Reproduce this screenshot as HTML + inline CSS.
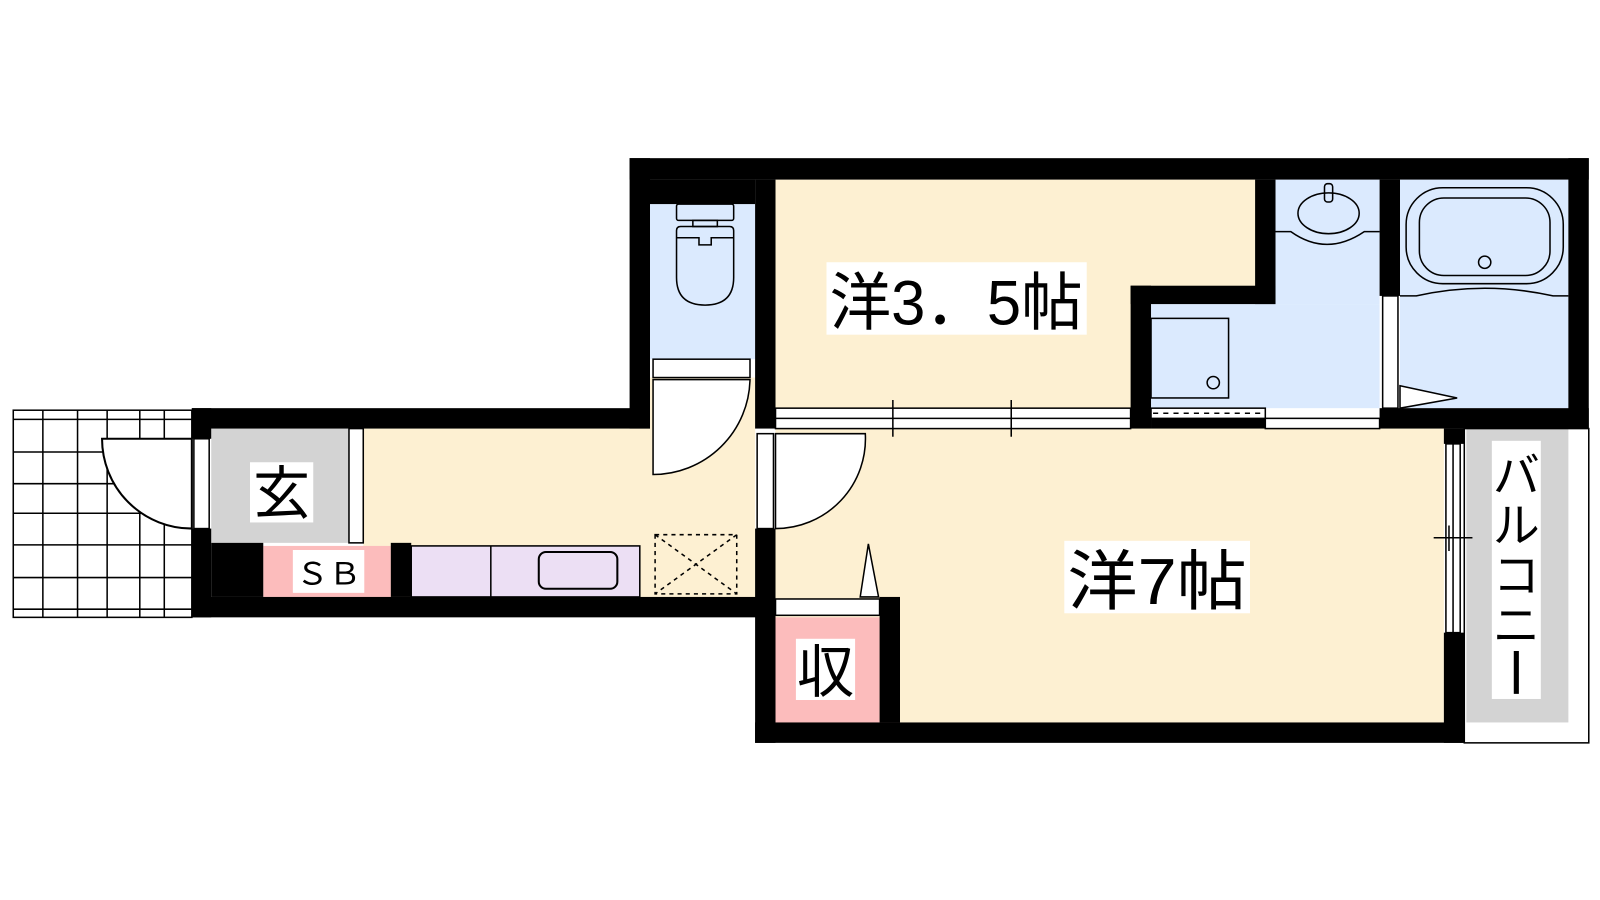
<!DOCTYPE html>
<html><head><meta charset="utf-8"><style>
html,body{margin:0;padding:0;background:#fff;width:1600px;height:900px;overflow:hidden}
text{font-family:"Liberation Sans","Noto Sans CJK JP",sans-serif;fill:#000}
</style></head><body>
<svg width="1600" height="900" viewBox="0 0 1568 882" xmlns="http://www.w3.org/2000/svg">
<!-- exterior tile grid -->
<g stroke="#000" stroke-width="1.5" fill="none">
<rect x="13" y="402" width="175" height="203" fill="#fff"/>
<line x1="13" y1="411" x2="188" y2="411"/><line x1="13" y1="443" x2="188" y2="443"/>
<line x1="13" y1="474" x2="188" y2="474"/><line x1="13" y1="503" x2="188" y2="503"/>
<line x1="13" y1="534" x2="188" y2="534"/><line x1="13" y1="566" x2="188" y2="566"/>
<line x1="13" y1="597" x2="188" y2="597"/>
<line x1="42" y1="402" x2="42" y2="605"/><line x1="76" y1="402" x2="76" y2="605"/>
<line x1="105" y1="402" x2="105" y2="605"/><line x1="137" y1="402" x2="137" y2="605"/>
<line x1="161" y1="402" x2="161" y2="605"/>
</g>
<path d="M100 430 A88 88 0 0 0 188 518 L188 430 Z" fill="#fff" stroke="#000" stroke-width="2"/>
<!-- floors -->
<rect x="207" y="420" width="135" height="112" fill="#d3d3d3"/>
<rect x="356" y="420" width="384" height="165" fill="#fdf0d2"/>
<rect x="637" y="370" width="103" height="60" fill="#fdf0d2"/>
<rect x="637" y="200" width="103" height="152" fill="#dbeafe"/>
<rect x="760" y="176" width="470" height="224" fill="#fdf0d2"/>
<rect x="760" y="420" width="655" height="288" fill="#fdf0d2"/>
<rect x="1128" y="298" width="224" height="102" fill="#dbeafe"/>
<rect x="1250" y="176" width="102" height="122" fill="#dbeafe"/>
<rect x="1372" y="176" width="165" height="224" fill="#dbeafe"/>
<rect x="1437" y="420" width="100" height="288" fill="#d3d3d3"/>
<rect x="1435" y="420" width="122" height="308" fill="none" stroke="#000" stroke-width="1.5"/>
<rect x="258" y="535" width="125" height="50" fill="#fcbcbc"/>
<rect x="403" y="535" width="224" height="50" fill="#ecdff4" stroke="#000" stroke-width="1.5"/>
<line x1="481" y1="535" x2="481" y2="585" stroke="#000" stroke-width="1.5"/>
<rect x="528" y="541" width="77" height="36" rx="7" fill="none" stroke="#000" stroke-width="2"/>
<rect x="760" y="605" width="102" height="103" fill="#fcbcbc"/>
<!-- walls -->
<g fill="#000">
<rect x="617" y="155" width="940" height="21"/>
<rect x="617" y="155" width="20" height="265"/>
<rect x="637" y="176" width="103" height="24"/>
<rect x="740" y="176" width="20" height="244"/>
<rect x="188" y="400" width="449" height="20"/>
<rect x="188" y="400" width="19" height="30"/>
<rect x="188" y="518" width="19" height="87"/>
<rect x="188" y="585" width="572" height="20"/>
<rect x="207" y="532" width="51" height="53"/>
<rect x="383" y="532" width="20" height="53"/>
<rect x="740" y="518" width="20" height="210"/>
<rect x="740" y="708" width="695" height="20"/>
<rect x="862" y="585" width="20" height="123"/>
<rect x="1230" y="176" width="20" height="122"/>
<rect x="1108" y="280" width="142" height="18"/>
<rect x="1108" y="280" width="20" height="140"/>
<rect x="1352" y="176" width="20" height="114"/>
<rect x="1352" y="400" width="205" height="20"/>
<rect x="1537" y="155" width="20" height="265"/>
<rect x="1415" y="420" width="20" height="15"/>
<rect x="1415" y="620" width="20" height="108"/>
<rect x="1128" y="410" width="112" height="10"/>
</g>
<!-- openings / doors -->
<g stroke="#000" stroke-width="1.5" fill="#fff">
<rect x="190" y="430" width="15" height="88"/>
<rect x="342" y="420" width="14" height="112"/>
<rect x="640" y="352" width="95" height="18"/>
<path d="M640 372 L735 372 A95 95 0 0 1 640 465 Z"/>
<rect x="742" y="425" width="16" height="93"/>
<path d="M760 425 L848 425 A88 88 0 0 1 760 518 Z"/>
<rect x="760" y="587" width="102" height="16"/>
<path d="M843 585 L851 533 L861 585 Z"/>
<rect x="760" y="400" width="348" height="20"/>
<rect x="1240" y="410" width="112" height="10"/>
<rect x="1128" y="400" width="112" height="10"/>
<rect x="1355" y="290" width="15" height="110"/>
<path d="M1372 378 L1428 390 L1372 400 Z"/>
<rect x="1417" y="435" width="14" height="185"/>
</g>
<g stroke="#000" stroke-width="1.5">
<line x1="760" y1="410" x2="1108" y2="410"/>
<line x1="875" y1="392" x2="875" y2="428"/><line x1="991" y1="392" x2="991" y2="428"/>
<line x1="1130" y1="405" x2="1238" y2="405" stroke-dasharray="5 5"/>
<line x1="1424" y1="435" x2="1424" y2="620"/>
<line x1="1405" y1="527" x2="1443" y2="527"/><line x1="1420" y1="515" x2="1420" y2="540"/>
</g>
<!-- dashed box -->
<g stroke="#000" stroke-width="1.5" fill="none" stroke-dasharray="4 4">
<rect x="642" y="524" width="80" height="58"/>
<line x1="642" y1="524" x2="722" y2="582"/><line x1="722" y1="524" x2="642" y2="582"/>
</g>
<!-- toilet -->
<g stroke="#000" stroke-width="1.5" fill="none">
<rect x="663" y="200" width="56" height="16" rx="2"/>
<rect x="679" y="216" width="24" height="6"/>
<path d="M663 226 Q663 222 667 222 L715 222 Q719 222 719 226 L719 272 Q719 299 691 299 Q663 299 663 272 Z"/>
<path d="M663 233 L685 233 L685 240 L697 240 L697 233 L719 233"/>
<!-- sink -->
<rect x="1298" y="180" width="8" height="18" rx="3"/>
<ellipse cx="1302" cy="209" rx="30" ry="20"/>
<path d="M1250 227 L1265 227 Q1300 252 1337 227 L1352 227"/>
<!-- washer -->
<rect x="1128" y="312" width="76" height="78"/>
<circle cx="1189" cy="375" r="6"/>
<!-- bath -->
<rect x="1378" y="184" width="154" height="94" rx="36"/>
<rect x="1391" y="194" width="128" height="76" rx="24"/>
<circle cx="1455" cy="257" r="6"/>
<path d="M1372 290 L1388 290 Q1455 275 1522 290 L1537 290"/>
</g>
<!-- labels -->
<rect x="810" y="257" width="255" height="71" fill="#fff"/>
<text x="813" y="318" font-size="62" textLength="248" lengthAdjust="spacingAndGlyphs">洋3．5帖</text>
<rect x="1043" y="530" width="182" height="71" fill="#fff"/>
<text x="1046" y="592" font-size="64" textLength="176" lengthAdjust="spacingAndGlyphs">洋7帖</text>
<rect x="245" y="453" width="62" height="59" fill="#fff"/>
<text x="248" y="503" font-size="56">玄</text>
<rect x="287" y="539" width="70" height="42" fill="#fff"/>
<text x="290" y="573" font-size="30" textLength="64" lengthAdjust="spacingAndGlyphs">ＳＢ</text>
<rect x="780" y="626" width="58" height="60" fill="#fff"/>
<text x="781" y="678" font-size="56">収</text>
<rect x="1462" y="432" width="48" height="253" fill="#fff"/>
<g font-size="46">
<text x="1463" y="482">バ</text>
<text x="1463" y="531">ル</text>
<text x="1463" y="580">コ</text>
<text x="1463" y="629">ニ</text>
<line x1="1486" y1="638" x2="1486" y2="680" stroke="#000" stroke-width="5"/>
</g>
</svg>
</body></html>
